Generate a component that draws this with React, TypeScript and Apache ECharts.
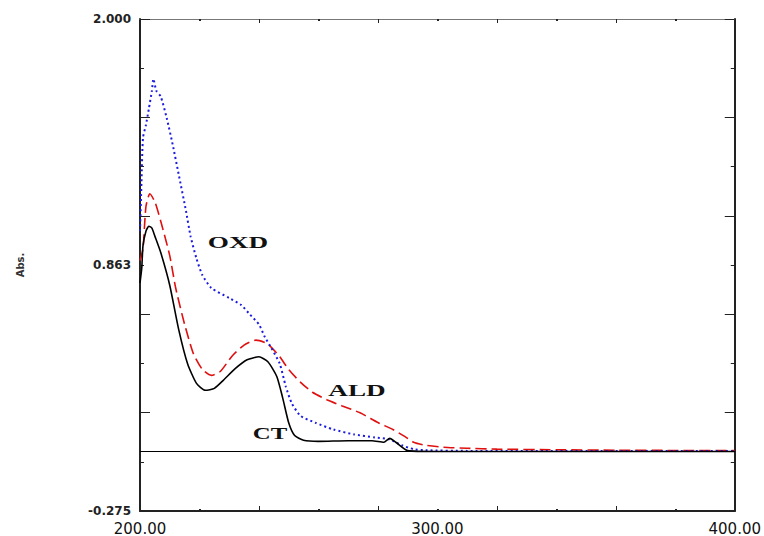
import React, { useEffect, useRef } from "react";
import * as echarts from "echarts";

// Wavelength (nm) and absorbance values
const ctWavelength = [200, 200.6, 201, 202, 203, 204, 205, 207, 210, 213, 216, 219, 222, 225, 228, 232, 236, 240, 243, 246, 248, 250, 252, 255, 260, 270, 278, 282, 284, 286, 290, 300, 320, 350, 400];
const ctAbs = [0.78, 0.85, 0.951, 1.019, 1.042, 1.033, 0.996, 0.919, 0.769, 0.565, 0.406, 0.315, 0.283, 0.292, 0.329, 0.383, 0.424, 0.438, 0.415, 0.347, 0.247, 0.133, 0.074, 0.052, 0.047, 0.05, 0.05, 0.043, 0.061, 0.043, 0.004, 0.0, 0.0, 0.0, 0.0];

const aldWavelength = [200, 201, 202, 203.3, 205, 207, 210, 212, 215, 218, 221, 224, 227, 231, 235, 239, 243, 247, 250, 254, 258, 263, 268, 274, 280, 285, 289, 292, 296, 302, 310, 320, 340, 360, 380, 400];
const aldAbs = [0.883, 0.937, 1.133, 1.192, 1.155, 1.064, 0.906, 0.756, 0.588, 0.451, 0.379, 0.352, 0.37, 0.442, 0.492, 0.515, 0.497, 0.438, 0.379, 0.32, 0.274, 0.238, 0.211, 0.179, 0.134, 0.102, 0.07, 0.043, 0.029, 0.02, 0.015, 0.011, 0.008, 0.006, 0.005, 0.005];

const oxdWavelength = [200, 200.5, 201, 202, 203, 204, 204.5, 205.5, 207, 209, 211, 213, 215.5, 217, 219, 221, 224, 230, 234, 237, 240, 242, 244, 247, 249, 251, 254, 259, 265, 272, 279, 284, 288, 292, 296, 310, 340, 400];
const oxdAbs = [1.019, 1.246, 1.45, 1.51, 1.587, 1.668, 1.723, 1.668, 1.641, 1.541, 1.419, 1.282, 1.11, 0.996, 0.892, 0.815, 0.756, 0.71, 0.678, 0.633, 0.588, 0.529, 0.483, 0.406, 0.302, 0.224, 0.165, 0.133, 0.102, 0.079, 0.065, 0.056, 0.029, 0.011, 0.006, 0.003, 0.002, 0.002];

const xTickLabels = ["200.00", "300.00", "400.00"];
const yTickLabels = ["-0.275", "0.863", "2.000"];
const curveNames = ["CT", "ALD", "OXD"];

const X_MIN = 200;
const X_MAX = 400;
const Y_MIN = -0.275;
const Y_MAX = 2.0;

const zip = (xs: number[], ys: number[]) => xs.map((x, i) => [x, ys[i]]);

export default function App() {
  const ref = useRef<HTMLDivElement>(null);

  useEffect(() => {
    if (!ref.current) return;
    const chart = echarts.init(ref.current, null, { renderer: "svg" });
    const axisColor = "#222";
    const tickAxisCommon = {
      axisLine: { show: false, onZero: false },
      axisLabel: { show: false },
      splitLine: { show: false },
    };
    const labelStyle = (x: number, y: number, text: string, scaleX: number) => ({
      type: "text",
      x,
      y,
      scaleX,
      style: {
        text,
        fontFamily: "Liberation Serif",
        fontWeight: "bold",
        fontSize: 16,
        fill: "#111",
        align: "center",
        verticalAlign: "middle",
      },
    });
    chart.setOption({
      animation: false,
      backgroundColor: "#ffffff",
      grid: { left: 140, right: 21, top: 19, bottom: 16, containLabel: false },
      xAxis: [
        {
          type: "value",
          min: X_MIN,
          max: X_MAX,
          interval: 40,
          position: "bottom",
          axisLine: { show: true, onZero: false, lineStyle: { color: axisColor, width: 2 } },
          axisTick: { show: true, inside: true, length: 5, lineStyle: { color: axisColor, width: 1 } },
          minorTick: { show: true, splitNumber: 2, length: 2, lineStyle: { color: axisColor, width: 2 } },
          axisLabel: { show: false },
          splitLine: { show: false },
        },
        {
          type: "value",
          min: X_MIN,
          max: X_MAX,
          interval: 100,
          position: "bottom",
          axisLine: { show: false, onZero: false },
          axisTick: { show: false },
          splitLine: { show: false },
          axisLabel: {
            show: true,
            margin: 10,
            color: "#111",
            fontFamily: "DejaVu Sans",
            fontSize: 15,
            formatter: (v: number) => xTickLabels[Math.round((v - X_MIN) / 100)] ?? "",
          },
        },
        {
          type: "value",
          min: X_MIN,
          max: X_MAX,
          interval: 40,
          position: "top",
          ...tickAxisCommon,
          axisLine: { show: true, onZero: false, lineStyle: { color: "#777", width: 1 } },
          axisTick: { show: true, inside: true, length: 4, lineStyle: { color: axisColor, width: 1 } },
          minorTick: { show: true, splitNumber: 2, length: 2, lineStyle: { color: axisColor, width: 2 } },
        },
      ],
      yAxis: [
        {
          type: "value",
          min: Y_MIN,
          max: Y_MAX,
          position: "left",
          axisLine: { show: true, onZero: false, lineStyle: { color: axisColor, width: 2 } },
          axisTick: { show: false },
          axisLabel: { show: false },
          splitLine: { show: false },
          name: "Abs.",
          nameLocation: "middle",
          nameGap: 115,
          nameTextStyle: { fontSize: 10, fontWeight: "bold", color: "#333", fontFamily: "DejaVu Sans" },
        },
        {
          type: "value",
          min: 0,
          max: 10,
          interval: 2,
          position: "left",
          ...tickAxisCommon,
          axisTick: { show: true, inside: true, length: 10, lineStyle: { color: axisColor, width: 1 } },
          minorTick: { show: true, splitNumber: 2, length: 4, lineStyle: { color: axisColor, width: 1 } },
        },
        {
          type: "value",
          min: 0,
          max: 10,
          interval: 5,
          position: "left",
          axisLine: { show: false, onZero: false },
          axisTick: { show: false },
          splitLine: { show: false },
          axisLabel: {
            show: true,
            margin: 9,
            color: "#222",
            fontFamily: "DejaVu Sans",
            fontWeight: "bold",
            fontSize: 12,
            formatter: (v: number) => yTickLabels[Math.round(v / 5)] ?? "",
          },
        },
        {
          type: "value",
          min: 0,
          max: 10,
          interval: 2,
          position: "right",
          ...tickAxisCommon,
          axisLine: { show: true, onZero: false, lineStyle: { color: axisColor, width: 2 } },
          axisTick: { show: true, inside: true, length: 10, lineStyle: { color: axisColor, width: 1 } },
          minorTick: { show: true, splitNumber: 2, length: 4, lineStyle: { color: axisColor, width: 1 } },
        },
      ],
      series: [
        {
          name: curveNames[0],
          type: "line",
          xAxisIndex: 0,
          yAxisIndex: 0,
          data: zip(ctWavelength, ctAbs),
          showSymbol: false,
          smooth: 0.2,
          lineStyle: { color: "#000000", width: 1.6, type: "solid" },
          z: 3,
          markLine: {
            silent: true,
            symbol: "none",
            label: { show: false },
            lineStyle: { color: "#000000", width: 1, type: "solid" },
            data: [{ yAxis: 0 }],
          },
        },
        {
          name: curveNames[1],
          type: "line",
          xAxisIndex: 0,
          yAxisIndex: 0,
          data: zip(aldWavelength, aldAbs),
          showSymbol: false,
          smooth: 0.2,
          lineStyle: { color: "#e01010", width: 1.6, type: [11, 5] },
          z: 2,
        },
        {
          name: curveNames[2],
          type: "line",
          xAxisIndex: 0,
          yAxisIndex: 0,
          data: zip(oxdWavelength, oxdAbs),
          showSymbol: false,
          smooth: 0.2,
          lineStyle: { color: "#1a1ae0", width: 2, type: [2, 3] },
          z: 2,
        },
      ],
      graphic: [
        labelStyle(238, 243, curveNames[2], 1.7),
        labelStyle(357, 391, curveNames[1], 1.7),
        labelStyle(270, 434, curveNames[0], 1.55),
      ],
    });
    return () => chart.dispose();
  }, []);

  return <div ref={ref} style={{ width: 764, height: 536, position: "absolute", left: 0, top: 0 }} />;
}
